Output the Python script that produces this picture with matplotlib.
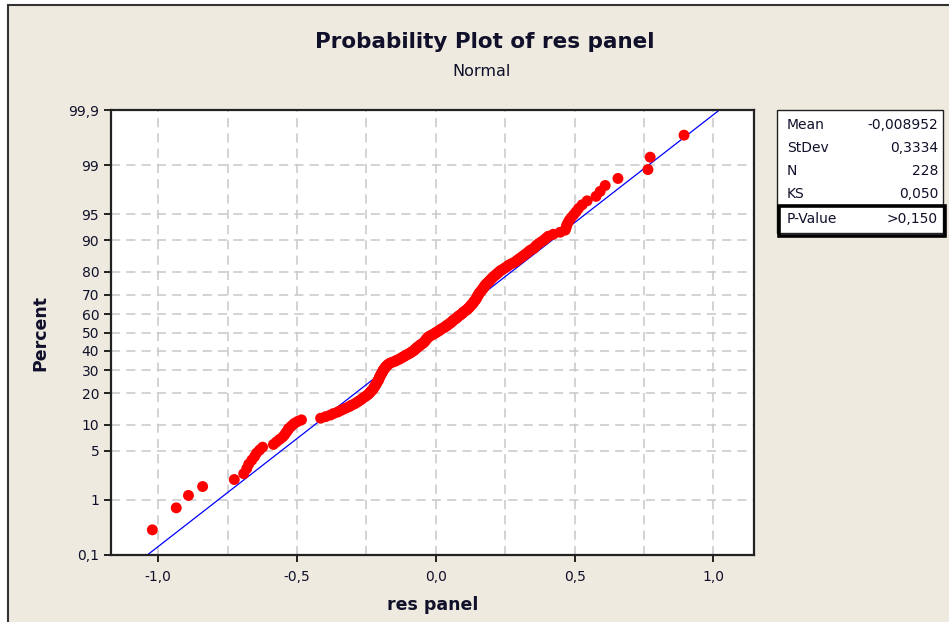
import matplotlib
matplotlib.use('Agg')
import matplotlib.pyplot as plt
from matplotlib.patches import Rectangle
from statistics import NormalDist
import numpy as np

# sorted residuals (228 points)
res_panel = [
    -1.021, -0.935, -0.891, -0.840, -0.726, -0.692, -0.681, -0.674, -0.663, -0.653, -0.646, -0.635, -0.624,
    -0.585, -0.574, -0.563, -0.552, -0.545, -0.540, -0.534, -0.531, -0.523, -0.516, -0.509, -0.498, -0.484,
    -0.415, -0.397, -0.380, -0.369, -0.354, -0.344, -0.333, -0.322, -0.311, -0.304, -0.293, -0.286, -0.279, -0.272,
    -0.266, -0.261, -0.254, -0.248, -0.243, -0.239, -0.236, -0.232, -0.228, -0.225,
    -0.223, -0.221, -0.218, -0.216, -0.214, -0.212, -0.210, -0.207, -0.206, -0.205,
    -0.203, -0.201, -0.200, -0.198, -0.196, -0.194, -0.192, -0.191, -0.189, -0.187,
    -0.183, -0.182, -0.180, -0.176, -0.173, -0.169, -0.164, -0.156, -0.147, -0.142,
    -0.135, -0.129, -0.124, -0.119, -0.113, -0.108, -0.103, -0.097, -0.092, -0.088,
    -0.083, -0.079, -0.076, -0.072, -0.070, -0.067, -0.061, -0.059, -0.056, -0.050,
    -0.047, -0.043, -0.041, -0.038, -0.036, -0.034, -0.032, -0.029, -0.025, -0.022,
    -0.016, -0.011, -0.005, -0.002, 0.004, 0.007, 0.013, 0.016, 0.020, 0.025,
    0.031, 0.034, 0.040, 0.041, 0.047, 0.050, 0.054, 0.058, 0.061, 0.063,
    0.068, 0.072, 0.076, 0.079, 0.081, 0.086, 0.090, 0.094, 0.097, 0.099,
    0.104, 0.108, 0.112, 0.115, 0.119, 0.121, 0.124, 0.126, 0.129, 0.133,
    0.135, 0.137, 0.138, 0.142, 0.144, 0.146, 0.147, 0.149, 0.151, 0.153,
    0.155, 0.156, 0.160, 0.162, 0.165, 0.167, 0.171, 0.173, 0.174, 0.178,
    0.180, 0.183, 0.187, 0.191, 0.194, 0.198, 0.201, 0.205, 0.209, 0.214,
    0.219, 0.223, 0.228, 0.232, 0.239, 0.246, 0.252, 0.259, 0.264, 0.273,
    0.282, 0.290, 0.295, 0.302, 0.309, 0.315, 0.322, 0.329, 0.335, 0.342,
    0.353, 0.358, 0.363, 0.371, 0.380, 0.390, 0.397, 0.405, 0.423, 0.448,
    0.466, 0.469, 0.471, 0.475, 0.480, 0.487, 0.496, 0.505, 0.514, 0.527,
    0.545, 0.577, 0.592, 0.610, 0.656, 0.764, 0.772, 0.894,
]

fit_mean = -0.008952
fit_stdev = 0.3334

stat_names = ['Mean', 'StDev', 'N', 'KS', 'P-Value']
stat_values = ['-0,008952', '0,3334', '228', '0,050', '>0,150']

pct_ticks = [0.1, 1, 5, 10, 20, 30, 40, 50, 60, 70, 80, 90, 95, 99, 99.9]
pct_labels = ['0,1', '1', '5', '10', '20', '30', '40', '50', '60', '70', '80', '90', '95', '99', '99,9']
x_ticks = [-1.0, -0.5, 0.0, 0.5, 1.0]
x_labels = ['-1,0', '-0,5', '0,0', '0,5', '1,0']
x_grid = [-0.75, -0.25, 0.25, 0.75]

W, H = 949, 622
bg = '#EEEAE0'
txt = '#10102a'
nd = NormalDist()

n = len(res_panel)
ranks = np.arange(1, n + 1)
probs = (ranks - 0.3) / (n + 0.4)
zs = [nd.inv_cdf(p) for p in probs]

fig = plt.figure(figsize=(W / 100, H / 100), dpi=100, facecolor='white')
fig.patches.append(Rectangle((8 / W, -0.1), 1.2, 1.1 - 5 / H, transform=fig.transFigure,
                             facecolor=bg, edgecolor='#333333', lw=1.5, zorder=-10))

ax = fig.add_axes([111 / W, 1 - 555 / H, (754 - 111) / W, (555 - 110) / H])
ax.set_facecolor('white')

zlo, zhi = nd.inv_cdf(0.001), nd.inv_cdf(0.999)
ax.set_ylim(zlo, zhi)
ax.set_xlim(-1.17, 1.146)

ax.set_yticks([nd.inv_cdf(p / 100) for p in pct_ticks])
ax.set_yticklabels(pct_labels)
ax.set_xticks(x_ticks)
ax.set_xticklabels(x_labels)
ax.set_xticks(x_grid, minor=True)

grid_kw = dict(color='#c8c8c8', lw=1.1, linestyle=(0, (6, 4)))
ax.grid(True, which='major', axis='both', **grid_kw)
ax.grid(True, which='minor', axis='x', **grid_kw)
ax.set_axisbelow(True)
ax.tick_params(axis='both', which='major', direction='out', length=5, width=1.3,
               labelsize=10, labelcolor=txt, colors='#111111')
ax.tick_params(axis='x', which='minor', length=0)
ax.tick_params(axis='x', pad=6)
for s in ax.spines.values():
    s.set_color('#222222')
    s.set_linewidth(1.6)

# fitted normal line
line_z = np.array([zlo, zhi])
ax.plot(fit_mean + fit_stdev * line_z, line_z, color='#0000ff', lw=0.9, zorder=2)
ax.scatter(res_panel, zs, s=62, color='#ff0000', edgecolors='none', zorder=3, clip_on=False)

fig.text(485 / W, 1 - 42 / H, 'Probability Plot of res panel', ha='center', va='center',
         fontsize=15.5, fontweight='bold', color=txt)
fig.text(482 / W, 1 - 71 / H, 'Normal', ha='center', va='center', fontsize=11.5, color=txt)
fig.text(433 / W, 1 - 605 / H, 'res panel', ha='center', va='center',
         fontsize=12.5, fontweight='bold', color=txt)
fig.text(40 / W, 1 - 333 / H, 'Percent', ha='center', va='center', rotation=90,
         fontsize=12.5, fontweight='bold', color=txt)

# stats box
fig.patches.append(Rectangle((777 / W, 1 - 233 / H), (943 - 777) / W, (233 - 110) / H,
                             transform=fig.transFigure, facecolor='white',
                             edgecolor='#222222', lw=1.0))
fig.patches.append(Rectangle((779 / W, 1 - 236 / H), (945 - 779) / W, (236 - 206) / H,
                             transform=fig.transFigure, facecolor='none',
                             edgecolor='black', lw=2.6))
row_y = [125, 148, 171, 194, 219]
for name, val, yy in zip(stat_names, stat_values, row_y):
    fig.text(787 / W, 1 - yy / H, name, ha='left', va='center', fontsize=10, color=txt)
    fig.text(938 / W, 1 - yy / H, val, ha='right', va='center', fontsize=10, color=txt)

fig.savefig('out.png', dpi=100, facecolor=fig.get_facecolor())
